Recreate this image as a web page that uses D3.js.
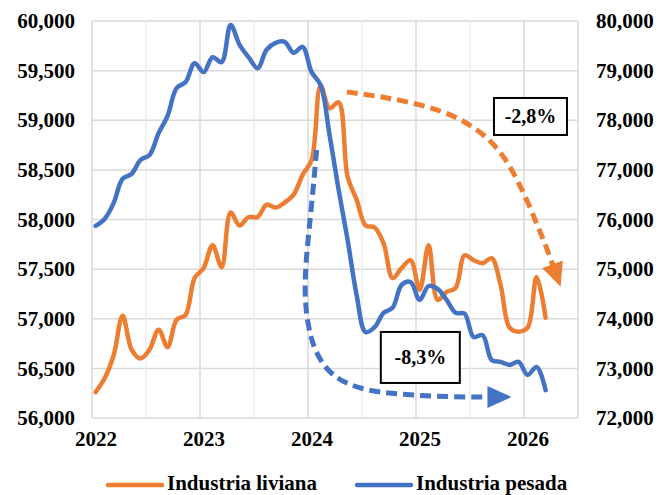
<!DOCTYPE html>
<html>
<head>
<meta charset="utf-8">
<script src="https://cdn.jsdelivr.net/npm/d3@7"></script>
<style>
  body { margin: 0; background: #fff; }
  svg text { font-family: "Liberation Serif", serif; font-weight: bold; fill: #000; }
</style>
</head>
<body>
<div id="chart"></div>
<script>
// monthly values, Jan 2022 .. Mar 2026
const startYear = 2022;
const liviana = [
  56260, 56400, 56630, 57030, 56690, 56600, 56690, 56890, 56715, 56990, 57040, 57410,
  57510, 57740, 57520, 58070, 57940, 58025, 58025, 58150, 58120, 58170, 58250, 58450,
  58600, 59350, 59120, 59180, 58430, 58200, 57940, 57920, 57760, 57410, 57510, 57590,
  57290, 57740, 57190, 57270, 57310, 57640, 57590, 57560, 57610, 57340, 56910, 56870,
  56910, 57420, 57010
];
const pesada = [
  75870, 76010, 76330, 76820, 76920, 77200, 77300, 77740, 78090, 78650, 78770, 79150,
  78970, 79270, 79170, 79920, 79520, 79270, 79050, 79420, 79560, 79580, 79360, 79480,
  78970, 78710, 77700, 76600, 75590, 74480, 73730, 73830, 74120, 74220, 74680, 74740,
  74380, 74660, 74600, 74380, 74120, 74100, 73630, 73670, 73170, 73130, 73070, 73130,
  72870, 73030, 72560
];
const seriesNames = ["Industria liviana", "Industria pesada"];
const yearTicks = [2022, 2023, 2024, 2025, 2026];
const leftTicks = [56000, 56500, 57000, 57500, 58000, 58500, 59000, 59500, 60000];
const rightTicks = [72000, 73000, 74000, 75000, 76000, 77000, 78000, 79000, 80000];

// annotation arrows, [year, value]
const livianaArrow = [
  [2024.36, 59285], [2024.64, 59244], [2024.94, 59184], [2025.25, 59093],
  [2025.48, 58972], [2025.67, 58821], [2025.82, 58630], [2025.94, 58398],
  [2026.06, 58116], [2026.16, 57844], [2026.2, 57743], [2026.27, 57531]
];
const pesadaArrow = [
  [2024.08, 77400], [2024.03, 76200], [2023.98, 75184], [2023.965, 74378],
  [2024.02, 73572], [2024.14, 73028], [2024.32, 72706], [2024.6, 72524],
  [2024.94, 72464], [2025.32, 72423], [2025.68, 72423]
];
const notes = [
  { label: "-2,8%", year: 2026.06, value: 59038, axis: "left", w: 73, h: 37 },
  { label: "-8,3%", year: 2025.04, value: 73220, axis: "right", w: 79, h: 51 }
];

const orange = "#ED7D31";
const blue = "#4472C4";

const draw = () => {
  const chartSize = { width: 662, height: 495 };
  const plot = { left: 92, right: 578, top: 21, bottom: 418 };

  const x = d3.scaleLinear().domain([2022, 2026.5]).range([plot.left, plot.right]);
  const yL = d3.scaleLinear().domain([56000, 60000]).range([plot.bottom, plot.top]);
  const yR = d3.scaleLinear().domain([72000, 80000]).range([plot.bottom, plot.top]);
  const monthX = i => x(startYear + (i + 0.4) / 12);
  const fmt = d3.format(",");

  const svg = d3.select("#chart").append("svg")
    .attr("width", chartSize.width)
    .attr("height", chartSize.height);

  const defs = svg.append("defs");
  [["arrow-o", orange], ["arrow-b", blue]].forEach(([id, c]) => {
    defs.append("marker")
      .attr("id", id)
      .attr("markerUnits", "userSpaceOnUse")
      .attr("viewBox", "0 -11 24 22")
      .attr("refX", 2).attr("refY", 0)
      .attr("markerWidth", 24).attr("markerHeight", 22)
      .attr("orient", "auto")
      .append("path")
      .attr("d", "M0,-11L24,0L0,11Z")
      .attr("fill", c);
  });

  // gridlines
  const grid = svg.append("g");
  grid.selectAll(".hl").data(leftTicks).enter().append("line")
    .attr("x1", plot.left).attr("x2", plot.right)
    .attr("y1", d => yL(d)).attr("y2", d => yL(d))
    .attr("stroke", "#d9d9d9").attr("stroke-width", 1.5);
  const halfYears = d3.range(2022, 2026.51, 0.5);
  grid.selectAll(".vl").data(halfYears).enter().append("line")
    .attr("x1", d => x(d)).attr("x2", d => x(d))
    .attr("y1", plot.top).attr("y2", plot.bottom)
    .attr("stroke", d => (d % 1 === 0 || d === 2026.5) ? "#d9d9d9" : "#ececec")
    .attr("stroke-width", 1.5);

  // axes labels
  svg.append("g").selectAll("text").data(leftTicks).enter().append("text")
    .attr("x", 75).attr("y", d => yL(d)).attr("dy", "0.34em")
    .attr("text-anchor", "end").attr("font-size", 21)
    .text(fmt);
  svg.append("g").selectAll("text").data(rightTicks).enter().append("text")
    .attr("x", 596).attr("y", d => yR(d)).attr("dy", "0.34em")
    .attr("text-anchor", "start").attr("font-size", 21)
    .text(fmt);
  svg.append("g").selectAll("text").data(yearTicks).enter().append("text")
    .attr("x", d => x(d) + 4).attr("y", 446)
    .attr("text-anchor", "middle").attr("font-size", 21)
    .text(d => d);

  // series
  const lineL = d3.line().x((d, i) => monthX(i)).y(d => yL(d)).curve(d3.curveCatmullRom);
  const lineR = d3.line().x((d, i) => monthX(i)).y(d => yR(d)).curve(d3.curveCatmullRom);
  svg.append("path").datum(liviana).attr("d", lineL)
    .attr("fill", "none").attr("stroke", orange).attr("stroke-width", 4.5)
    .attr("stroke-linejoin", "round").attr("stroke-linecap", "round");
  svg.append("path").datum(pesada).attr("d", lineR)
    .attr("fill", "none").attr("stroke", blue).attr("stroke-width", 4.5)
    .attr("stroke-linejoin", "round").attr("stroke-linecap", "round");

  // dashed arrows
  const arrowL = d3.line().x(d => x(d[0])).y(d => yL(d[1])).curve(d3.curveBasis);
  const arrowR = d3.line().x(d => x(d[0])).y(d => yR(d[1])).curve(d3.curveBasis);
  svg.append("path").datum(livianaArrow).attr("d", arrowL)
    .attr("fill", "none").attr("stroke", orange).attr("stroke-width", 5)
    .attr("stroke-dasharray", "11,6")
    .attr("marker-end", "url(#arrow-o)");
  svg.append("path").datum(pesadaArrow).attr("d", arrowR)
    .attr("fill", "none").attr("stroke", blue).attr("stroke-width", 5)
    .attr("stroke-dasharray", "11,6")
    .attr("marker-end", "url(#arrow-b)");

  // boxes
  const boxes = svg.selectAll(".note").data(notes).enter().append("g")
    .attr("transform", d => `translate(${x(d.year)},${d.axis === "left" ? yL(d.value) : yR(d.value)})`);
  boxes.append("rect")
    .attr("x", d => -d.w / 2).attr("y", d => -d.h / 2)
    .attr("width", d => d.w).attr("height", d => d.h)
    .attr("fill", "#fff").attr("stroke", "#000").attr("stroke-width", 2);
  boxes.append("text")
    .attr("text-anchor", "middle").attr("dy", "0.34em")
    .attr("font-size", 20).attr("font-weight", "normal")
    .text(d => d.label);

  // legend
  const legend = svg.append("g");
  const items = [{ name: seriesNames[0], c: orange, x0: 108 }, { name: seriesNames[1], c: blue, x0: 357 }];
  items.forEach(it => {
    legend.append("line")
      .attr("x1", it.x0).attr("x2", it.x0 + 54)
      .attr("y1", 485).attr("y2", 485)
      .attr("stroke", it.c).attr("stroke-width", 4.5).attr("stroke-linecap", "round");
    legend.append("text")
      .attr("x", it.x0 + 59).attr("y", 490)
      .attr("font-size", 21)
      .text(it.name);
  });
};

window.onload = draw;
</script>
</body>
</html>
